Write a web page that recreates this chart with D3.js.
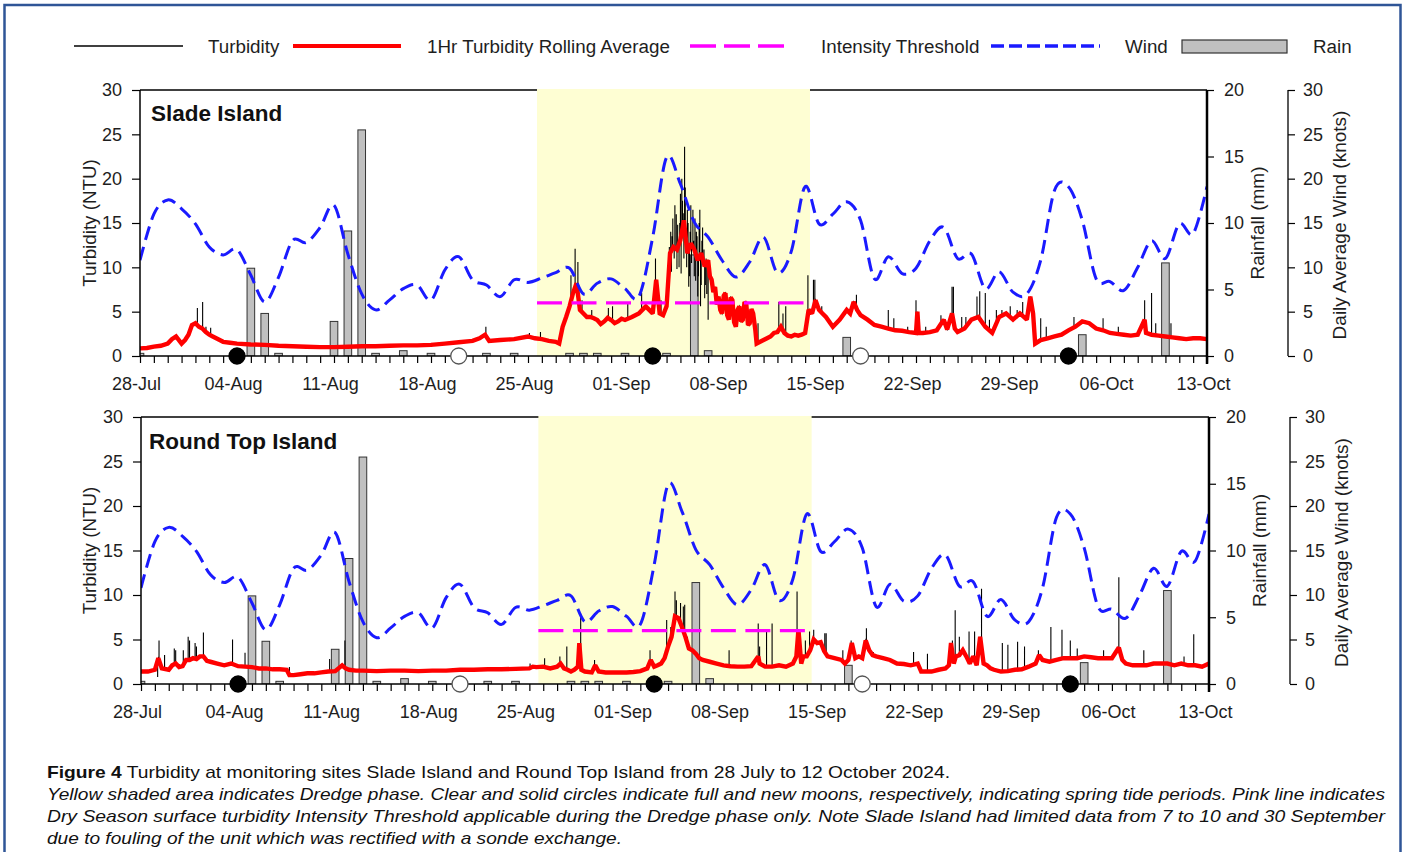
<!DOCTYPE html>
<html>
<head>
<meta charset="utf-8">
<script src="https://cdn.jsdelivr.net/npm/d3@7/dist/d3.min.js"></script>
<style>
  html, body { margin: 0; padding: 0; background: #ffffff; }
  svg { display: block; font-family: "Liberation Sans", Arial, sans-serif; }
</style>
</head>
<body>
<svg id="chart" width="1407" height="852"></svg>
<script>
// ---- Data (day offsets from 28 July 2024) ----
const dateLabels = ["28-Jul", "04-Aug", "11-Aug", "18-Aug", "25-Aug", "01-Sep", "08-Sep",
                    "15-Sep", "22-Sep", "29-Sep", "06-Oct", "13-Oct"];
const totalDays = 77;

// Dredge phase window and the threshold applicable during it (NTU)
const dredgePhase = [28.65, 48.35];
const intensityThreshold = 6;

// Daily average wind (knots), one value per day
const windKnots = [10.8, 16.0, 17.6, 16.6, 14.9, 12.3, 11.4, 12.0, 9.1, 6.1,
                   8.9, 13.0, 12.8, 14.5, 17.0, 11.5, 7.0, 5.2, 6.3, 7.6,
                   8.0, 6.3, 9.7, 11.2, 8.6, 8.0, 6.7, 8.6, 8.3, 8.8,
                   9.4, 9.9, 7.0, 8.2, 8.7, 7.6, 6.7, 13.4, 22.4, 19.4,
                   15.1, 13.4, 10.8, 8.9, 10.6, 13.4, 9.4, 11.8, 19.1, 14.9,
                   16.0, 17.4, 15.3, 8.7, 11.2, 9.3, 9.9, 13.0, 14.5, 11.0,
                   11.5, 7.6, 9.5, 7.2, 7.0, 10.8, 18.7, 19.1, 15.3, 8.7,
                   8.4, 7.4, 10.0, 13.0, 11.0, 14.9, 13.8, 19.1];

// Daily rainfall (day, mm)
const rainDays = [0, 8, 9, 10, 14, 15, 16, 17, 19, 21, 25, 27, 31, 32, 33, 35, 38, 40, 41, 51, 68, 74];
const rainMm   = [0.2, 6.6, 3.2, 0.2, 2.6, 9.4, 17.0, 0.2, 0.4, 0.2, 0.2, 0.2, 0.2, 0.2, 0.2, 0.2, 0.2, 7.6, 0.4, 1.4, 1.6, 7.0];

// Moon phases (day, type)
const moonDays  = [7, 23, 37, 52, 67];
const moonTypes = ["new", "full", "new", "full", "new"];

// Slade Island: 1 hr turbidity rolling average (day, NTU)
const sladeAvg = [[0,0.86],[0.5,0.9],[1,1.05],[1.5,1.15],[2,1.4],[2.3,1.9],[2.6,2.2],[3,1.4],[3.25,1.8],[3.5,2.4],[3.75,3.5],[4,3.7],[4.25,3.3],[4.5,3.1],[4.75,2.7],[5,2.4],[5.25,2.2],[5.5,2.0],[5.75,1.8],[6,1.6],[6.5,1.5],[7,1.4],[8,1.3],[9,1.25],[10,1.15],[11,1.1],[12,1.05],[13,1.0],[14,1.0],[15,1.05],[16,1.1],[17,1.1],[18,1.15],[19,1.2],[20,1.2],[21,1.25],[22,1.4],[23,1.55],[24,1.7],[24.5,2.0],[24.9,2.4],[25.2,1.7],[26,1.8],[27,1.9],[28,2.2],[28.5,2.0],[29,1.9],[29.5,1.7],[30,1.6],[30.25,1.4],[30.5,3.3],[30.75,4.4],[31,5.6],[31.25,7.1],[31.5,8.2],[31.75,5.2],[32,4.8],[32.25,4.4],[32.5,4.4],[32.75,4.25],[33,4.06],[33.25,3.6],[33.5,3.9],[33.75,4.3],[34,4.06],[34.25,3.7],[34.5,3.9],[34.75,4.2],[35,4.06],[35.5,4.4],[36,4.8],[36.25,5.2],[36.5,5.6],[36.75,5.2],[37,4.8],[37.25,8.6],[37.5,4.8],[37.75,4.6],[38,5.6],[38.25,11.6],[38.5,12.3],[38.75,12.0],[39,13.1],[39.25,15.3],[39.5,11.6],[39.75,12.7],[40,12.0],[40.25,10.8],[40.5,11.6],[40.75,10.1],[41,10.8],[41.125,9.0],[41.25,8.6],[41.375,7.2],[41.5,7.8],[41.625,5.8],[41.75,6.7],[41.875,5.2],[42,4.8],[42.125,6.8],[42.25,7.1],[42.375,4.6],[42.5,4.1],[42.625,6.6],[42.75,6.3],[42.875,3.8],[43,3.3],[43.125,5.2],[43.25,5.6],[43.375,3.9],[43.5,4.1],[43.625,6.1],[43.75,5.9],[43.875,3.5],[44,3.7],[44.125,5.3],[44.25,4.8],[44.4,3.0],[44.5,1.4],[44.75,1.6],[45,1.8],[45.25,2.0],[45.5,2.2],[45.75,2.6],[46,2.7],[46.25,3.3],[46.5,2.6],[46.75,2.3],[47,2.2],[47.25,2.4],[47.5,2.3],[47.75,2.4],[48,2.6],[48.25,5.2],[48.5,4.8],[48.75,6.3],[49,5.2],[49.25,4.8],[49.5,4.4],[50,3.3],[50.5,4.1],[51,5.2],[51.25,4.8],[51.5,6.1],[51.75,5.2],[52,4.6],[52.5,4.1],[53,3.5],[53.5,3.3],[54,3.1],[54.5,2.9],[55,2.85],[55.5,2.7],[56,2.6],[56.1,5.0],[56.2,2.6],[56.5,2.6],[57,2.7],[57.5,2.9],[58,4.1],[58.25,3.0],[58.6,4.8],[58.8,3.1],[59,2.7],[59.5,3.1],[60,4.1],[60.5,4.4],[61,3.3],[61.5,2.6],[62,4.4],[62.5,4.8],[63,4.1],[63.5,4.8],[64,4.1],[64.25,6.7],[64.45,4.8],[64.6,1.4],[65,1.8],[65.5,2.0],[66,2.2],[66.5,2.4],[67,2.9],[67.5,3.3],[68,3.9],[68.5,3.7],[69,3.1],[69.5,2.9],[70,2.6],[70.5,2.5],[71,2.4],[71.5,2.3],[72,2.4],[72.5,4.1],[72.6,2.6],[73,2.4],[73.5,2.3],[74,2.2],[74.5,2.1],[75,2.0],[75.5,1.9],[76,2.0],[76.5,2.0],[77,1.9]];

// Slade Island: raw turbidity excursions (day, NTU)
const sladeRaw = [[4.14,5.4],[4.52,6.1],[4.76,3.3],[5.1,3.2],[24.96,3.3],[28.1,2.6],[28.9,2.7],[31.1,9.1],[31.4,12.1],[31.6,10.6],[31.9,6.3],[32.6,5.2],[33.8,5.4],[34.1,5.6],[35.2,6.1],[36.2,7.1],[37.2,11.0],[37.6,6.3],[38.2,12.3],[38.3,14.0],[38.35,9.5],[38.4,13.5],[38.45,15.5],[38.55,11.0],[38.6,17.0],[38.7,16.0],[38.75,9.8],[38.8,14.8],[38.9,10.0],[38.95,15.0],[39.0,18.3],[39.05,9.3],[39.1,20.0],[39.15,17.5],[39.2,16.1],[39.25,11.0],[39.3,23.6],[39.35,19.0],[39.4,12.5],[39.45,10.0],[39.5,16.5],[39.55,15.0],[39.6,7.8],[39.65,9.0],[39.7,14.0],[39.75,17.0],[39.8,10.5],[39.9,16.5],[39.95,13.0],[40.0,9.0],[40.05,15.5],[40.1,8.5],[40.15,14.0],[40.2,13.5],[40.25,6.7],[40.3,9.0],[40.35,15.0],[40.4,16.5],[40.45,5.6],[40.5,8.0],[40.55,13.0],[40.6,14.5],[40.7,12.0],[40.75,6.5],[40.8,8.0],[40.85,11.0],[40.9,7.0],[41.0,4.1],[44.6,3.7],[46.1,6.1],[46.4,4.8],[46.6,5.6],[48.2,9.1],[48.6,8.6],[48.7,8.6],[49.2,5.6],[50.7,4.6],[51.7,6.9],[54.0,5.2],[54.4,4.25],[55.4,3.3],[56.0,6.3],[56.7,3.3],[57.8,4.6],[58.6,7.8],[58.7,7.8],[59.3,4.4],[59.6,4.4],[60.4,6.7],[60.6,7.3],[61.0,7.1],[61.3,4.1],[61.8,5.2],[62.2,5.2],[62.8,5.6],[63.3,5.2],[63.7,6.1],[65.0,4.25],[65.4,3.3],[67.4,4.4],[69.5,4.25],[70.6,3.3],[72.5,6.3],[73.0,7.1],[73.3,3.7],[74.4,3.7]];

// Round Top Island: 1 hr turbidity rolling average (day, NTU)
const roundTopAvg = [[0,1.4],[0.5,1.4],[1,1.6],[1.25,2.9],[1.5,1.75],[2,1.6],[2.25,2.1],[2.5,2.3],[2.75,1.9],[3,2.0],[3.25,2.7],[3.5,2.7],[3.75,2.9],[4,2.8],[4.25,3.1],[4.5,3.1],[4.75,2.6],[5,2.5],[5.5,2.3],[6,2.1],[6.5,2.3],[7,2.0],[7.5,1.95],[8,1.9],[8.5,1.75],[9,1.75],[9.5,1.65],[10,1.65],[10.5,1.6],[10.7,1.0],[11,1.0],[11.5,1.1],[12,1.2],[12.5,1.2],[13,1.3],[13.5,1.4],[14,1.45],[14.5,2.1],[14.75,1.75],[15,1.6],[15.5,1.5],[16,1.5],[17,1.45],[18,1.5],[19,1.5],[20,1.45],[21,1.5],[22,1.5],[23,1.6],[24,1.6],[25,1.65],[26,1.65],[27,1.7],[28,1.75],[28.25,1.95],[28.5,1.9],[29,1.95],[29.5,1.75],[30,1.95],[30.25,2.3],[30.5,1.75],[30.75,1.6],[31,1.4],[31.25,1.6],[31.5,1.95],[31.6,4.6],[31.75,1.6],[32,1.4],[32.5,1.3],[32.75,2.1],[33,1.4],[33.5,1.3],[34,1.3],[34.5,1.3],[35,1.3],[35.5,1.35],[36,1.45],[36.5,1.75],[36.75,2.7],[37,1.95],[37.25,2.1],[37.5,2.3],[37.75,2.9],[38,4.2],[38.25,5.3],[38.5,7.6],[38.75,7.4],[39,6.4],[39.25,5.3],[39.5,4.0],[39.75,3.8],[40,3.4],[40.25,2.9],[40.5,2.7],[41,2.5],[41.5,2.3],[42,2.1],[42.5,2.0],[43,1.95],[43.5,1.95],[44,2.0],[44.5,3.1],[44.6,2.3],[45,1.95],[45.5,1.95],[46,2.1],[46.5,1.95],[47,2.3],[47.25,3.1],[47.4,6.1],[47.6,2.3],[47.75,3.1],[48,3.1],[48.25,3.8],[48.5,5.0],[48.75,4.6],[49,4.7],[49.25,3.7],[49.5,3.1],[50,2.9],[50.5,2.7],[50.75,2.3],[51,2.7],[51.25,4.6],[51.5,2.9],[51.75,3.1],[52,2.9],[52.25,4.9],[52.5,3.8],[52.75,3.25],[53,3.1],[53.5,2.9],[54,2.7],[54.5,2.3],[55,2.25],[55.5,2.1],[56,2.3],[56.25,1.4],[56.5,1.4],[57,1.4],[57.5,1.6],[58,1.75],[58.25,2.1],[58.4,4.6],[58.6,2.3],[58.75,3.1],[59,3.25],[59.25,3.8],[59.5,3.1],[59.75,2.3],[60,3.1],[60.25,2.1],[60.5,5.3],[60.75,2.3],[61,2.1],[61.25,1.75],[61.5,1.6],[62,1.4],[62.5,1.45],[63,1.6],[63.5,1.65],[64,1.95],[64.5,2.3],[64.75,3.25],[65,2.7],[65.5,2.5],[66,2.7],[66.5,2.9],[67,2.9],[67.5,2.9],[68,3.1],[68.5,3.0],[69,2.9],[69.5,2.9],[70,2.9],[70.5,4.1],[70.75,2.7],[71,2.3],[71.5,2.1],[72,2.1],[72.5,2.1],[73,2.3],[73.5,2.3],[74,2.3],[74.5,2.1],[75,2.3],[75.5,2.1],[76,2.1],[76.5,1.95],[77,2.3]];

// Round Top Island: raw turbidity excursions (day, NTU)
const roundTopRaw = [[1.2,0.8],[1.3,4.9],[1.7,3.25],[2.4,4.0],[2.5,3.8],[3.05,3.8],[3.4,5.3],[3.5,4.9],[3.9,4.6],[4.0,4.2],[4.5,5.8],[6.6,5.0],[7.5,3.5],[10.7,1.9],[13.6,2.8],[14.7,4.9],[28.05,2.3],[29.1,2.9],[30.2,3.1],[30.7,4.2],[31.7,7.9],[32.7,2.7],[36.7,3.8],[37.9,7.2],[38.2,6.4],[38.5,10.4],[38.6,9.4],[38.9,9.1],[39.1,8.7],[39.2,8.9],[39.4,5.3],[42.4,3.8],[44.5,6.8],[44.6,4.2],[45.1,5.9],[45.5,6.8],[47.3,10.4],[47.9,4.9],[48.2,5.9],[48.5,6.1],[49.3,5.7],[49.4,5.7],[50.6,3.8],[51.2,4.9],[52.3,6.25],[52.8,3.6],[55.7,3.6],[56.7,3.4],[58.5,4.9],[58.7,8.3],[59.0,5.3],[59.7,5.9],[60.1,5.9],[60.6,10.7],[62.1,4.6],[62.5,4.4],[63.2,4.75],[63.7,4.2],[64.7,3.8],[65.6,6.4],[66.4,6.1],[67.0,4.9],[67.5,4.0],[69.4,3.8],[70.5,12.0],[72.3,3.8],[75.2,3.1],[75.9,5.6]];

const panels = [
  { title: "Slade Island",     avg: sladeAvg,    raw: sladeRaw,    left: 140, right: 1207, top: 90,  bottom: 356, titleX: 151, titleY: 121 },
  { title: "Round Top Island", avg: roundTopAvg, raw: roundTopRaw, left: 141, right: 1209, top: 417, bottom: 684, titleX: 149, titleY: 449 }
];

// ---- Drawing ----
const svg = d3.select("#chart");
const TEXT = "#1e1e1e";
const RED = "#ff0000", BLUE = "#1a1aff", MAGENTA = "#ff00ff";
const FONT = "Liberation Sans, Arial, sans-serif";

// figure frame
svg.append("rect").attr("x", 4.5).attr("y", 5).attr("width", 1396).attr("height", 870)
  .attr("fill", "none").attr("stroke", "#2f5597").attr("stroke-width", 2.5);

// legend
const lg = svg.append("g").attr("font-size", 18.8).attr("fill", TEXT);
const LY = 46;
lg.append("line").attr("x1", 74).attr("x2", 183).attr("y1", LY).attr("y2", LY).attr("stroke", "#000").attr("stroke-width", 1.3);
lg.append("text").attr("x", 208).attr("y", LY + 6.5).text("Turbidity");
lg.append("line").attr("x1", 293).attr("x2", 401).attr("y1", LY).attr("y2", LY).attr("stroke", RED).attr("stroke-width", 4.2);
lg.append("text").attr("x", 427).attr("y", LY + 6.5).text("1Hr Turbidity Rolling Average");
lg.append("line").attr("x1", 690).attr("x2", 786).attr("y1", LY).attr("y2", LY).attr("stroke", MAGENTA).attr("stroke-width", 3.5).attr("stroke-dasharray", "26,8");
lg.append("text").attr("x", 821).attr("y", LY + 6.5).text("Intensity Threshold");
lg.append("line").attr("x1", 991).attr("x2", 1100).attr("y1", LY).attr("y2", LY).attr("stroke", BLUE).attr("stroke-width", 3.5).attr("stroke-dasharray", "13,5");
lg.append("text").attr("x", 1125).attr("y", LY + 6.5).text("Wind");
lg.append("rect").attr("x", 1182).attr("y", 40).attr("width", 105).attr("height", 13).attr("fill", "#c0c0c0").attr("stroke", "#333").attr("stroke-width", 1.2);
lg.append("text").attr("x", 1313).attr("y", LY + 6.5).text("Rain");

function valueAt(series, d) {
  const i = d3.bisector(p => p[0]).left(series, d);
  if (i <= 0) return series[0][1];
  if (i >= series.length) return series[series.length - 1][1];
  const a = series[i - 1], b = series[i];
  const t = (d - a[0]) / (b[0] - a[0]);
  return a[1] + t * (b[1] - a[1]);
}

panels.forEach((p, idx) => {
  const g = svg.append("g");
  const x = d3.scaleLinear().domain([0, totalDays]).range([p.left, p.right]);
  const yT = d3.scaleLinear().domain([0, 30]).range([p.bottom, p.top]);
  const yR = d3.scaleLinear().domain([0, 20]).range([p.bottom, p.top]);
  const yW = d3.scaleLinear().domain([0, 30]).range([p.bottom, p.top]);

  const clipId = "clip" + idx;
  svg.append("clipPath").attr("id", clipId).append("rect")
    .attr("x", p.left).attr("y", p.top).attr("width", p.right - p.left).attr("height", p.bottom - p.top);

  // top frame line
  g.append("line").attr("x1", p.left).attr("x2", p.right).attr("y1", p.top).attr("y2", p.top)
    .attr("stroke", "#000").attr("stroke-width", 1.5);

  // dredge phase shading
  g.append("rect").attr("x", x(dredgePhase[0])).attr("y", p.top - 1)
    .attr("width", x(dredgePhase[1]) - x(dredgePhase[0])).attr("height", p.bottom - p.top + 1)
    .attr("fill", "#fefed3");

  const plot = g.append("g").attr("clip-path", `url(#${clipId})`);

  // rain bars
  const barW = x(0.55) - x(0);
  plot.selectAll("rect.rain").data(rainDays.map((d, i) => [d, rainMm[i]])).join("rect")
    .attr("class", "rain")
    .attr("x", d => x(d[0]) - barW / 2).attr("width", barW)
    .attr("y", d => yR(d[1])).attr("height", d => yR(0) - yR(d[1]))
    .attr("fill", "#c0c0c0").attr("stroke", "#333").attr("stroke-width", 1);

  // raw turbidity: rolling series with recorded excursions
  const rawPts = p.avg.map(a => [a[0], a[1]]);
  p.raw.forEach(s => {
    const base = valueAt(p.avg, s[0]);
    rawPts.push([s[0] - 1e-4, base], [s[0], s[1]], [s[0] + 1e-4, base]);
  });
  rawPts.sort((a, b) => a[0] - b[0]);
  const line = d3.line().x(d => x(d[0])).y(d => yT(d[1]));
  plot.append("path").attr("d", line(rawPts)).attr("fill", "none")
    .attr("stroke", "#000").attr("stroke-width", 1.1);

  // rolling average
  plot.append("path").attr("d", line(p.avg)).attr("fill", "none")
    .attr("stroke", RED).attr("stroke-width", 4.4).attr("stroke-linejoin", "miter").attr("stroke-miterlimit", 2);

  // intensity threshold
  plot.append("line").attr("x1", x(dredgePhase[0])).attr("x2", x(dredgePhase[1]))
    .attr("y1", yT(intensityThreshold)).attr("y2", yT(intensityThreshold))
    .attr("stroke", MAGENTA).attr("stroke-width", 3.2).attr("stroke-dasharray", "25,9.5");

  // wind
  const windLine = d3.line().x((d, i) => x(i)).y(d => yW(d)).curve(d3.curveCatmullRom.alpha(0));
  plot.append("path").attr("d", windLine(windKnots)).attr("fill", "none")
    .attr("stroke", BLUE).attr("stroke-width", 3).attr("stroke-dasharray", "14,7");

  // left turbidity axis
  const axL = g.append("g").attr("transform", `translate(${p.left},0)`)
    .call(d3.axisLeft(yT).tickValues([0, 5, 10, 15, 20, 25, 30]).tickSize(8).tickPadding(10).tickFormat(d3.format("d")));
  axL.select(".domain").attr("stroke-width", 1.5).attr("d", `M0,${p.top}V${p.bottom}`);
  axL.selectAll("text").attr("font-size", 18).attr("fill", TEXT).attr("font-family", FONT);
  axL.selectAll("line").attr("stroke-width", 1.2);

  // bottom date axis: daily ticks, weekly labels
  const axB = g.append("g").attr("transform", `translate(0,${p.bottom})`)
    .call(d3.axisBottom(x).tickValues(d3.range(0, totalDays + 1)).tickSize(7).tickPadding(14)
      .tickFormat(d => d % 7 === 0 ? dateLabels[d / 7] : ""));
  axB.select(".domain").attr("stroke-width", 1.5).attr("d", `M${p.left},0H${p.right}`);
  axB.selectAll("text").attr("font-size", 18).attr("fill", TEXT).attr("font-family", FONT).attr("x", -4);
  axB.selectAll("line").attr("stroke-width", 1.2);

  // rainfall axis (right)
  const axR = g.append("g").attr("transform", `translate(${p.right},0)`)
    .call(d3.axisRight(yR).tickValues([0, 5, 10, 15, 20]).tickSize(7).tickPadding(10).tickFormat(d3.format("d")));
  axR.select(".domain").attr("stroke-width", 2.5).attr("d", `M0,${p.top}V${p.bottom + 8}`);
  axR.selectAll("text").attr("font-size", 18).attr("fill", TEXT).attr("font-family", FONT);
  axR.selectAll("line").attr("stroke-width", 1.2);

  // wind axis (far right)
  const wx = p.right + 81;
  const axW = g.append("g").attr("transform", `translate(${wx},0)`)
    .call(d3.axisRight(yW).tickValues([0, 5, 10, 15, 20, 25, 30]).tickSize(7).tickPadding(8).tickFormat(d3.format("d")));
  axW.select(".domain").attr("stroke-width", 1.3).attr("d", `M0,${p.top}V${p.bottom}`);
  axW.selectAll("text").attr("font-size", 18).attr("fill", TEXT).attr("font-family", FONT);
  axW.selectAll("line").attr("stroke-width", 1.2);

  // moon phases on the date axis
  g.selectAll("circle.moon").data(moonDays.map((d, i) => [d, moonTypes[i]])).join("circle")
    .attr("class", "moon")
    .attr("cx", d => x(d[0])).attr("cy", p.bottom).attr("r", 8)
    .attr("fill", d => d[1] === "new" ? "#000" : "#fff")
    .attr("stroke", d => d[1] === "new" ? "#000" : "#555").attr("stroke-width", 1.3);

  // axis titles
  const mid = (p.top + p.bottom) / 2;
  g.append("text").attr("transform", `translate(96,${mid}) rotate(-90)`).attr("text-anchor", "middle")
    .attr("font-size", 18.8).attr("fill", TEXT).text("Turbidity (NTU)");
  g.append("text").attr("transform", `translate(${p.right + 57},${mid}) rotate(-90)`).attr("text-anchor", "middle")
    .attr("font-size", 19).attr("fill", TEXT).text("Rainfall (mm)");
  g.append("text").attr("transform", `translate(${p.right + 139},${mid + 2}) rotate(-90)`).attr("text-anchor", "middle")
    .attr("font-size", 19).attr("fill", TEXT).text("Daily Average Wind (knots)");

  // site name
  g.append("text").attr("x", p.titleX).attr("y", p.titleY).attr("font-size", 22.5)
    .attr("font-weight", "bold").attr("fill", "#111").text(p.title);
});

// caption
const cap = svg.append("g").attr("font-size", 17).attr("fill", "#111");
const c1 = cap.append("text").attr("x", 47).attr("y", 778).attr("textLength", 903).attr("lengthAdjust", "spacingAndGlyphs");
c1.append("tspan").attr("font-weight", "bold").text("Figure 4");
c1.append("tspan").text(" Turbidity at monitoring sites Slade Island and Round Top Island from 28 July to 12 October 2024.");
const italicLines = [
  ["Yellow shaded area indicates Dredge phase. Clear and solid circles indicate full and new moons, respectively, indicating spring tide periods. Pink line indicates", 800, 1338],
  ["Dry Season surface turbidity Intensity Threshold applicable during the Dredge phase only. Note Slade Island had limited data from 7 to 10 and 30 September", 822, 1338],
  ["due to fouling of the unit which was rectified with a sonde exchange.", 844, 575]
];
italicLines.forEach(([t, yy, w]) => {
  cap.append("text").attr("x", 47).attr("y", yy).attr("font-style", "italic")
    .attr("textLength", w).attr("lengthAdjust", "spacingAndGlyphs").text(t);
});
</script>
</body>
</html>
